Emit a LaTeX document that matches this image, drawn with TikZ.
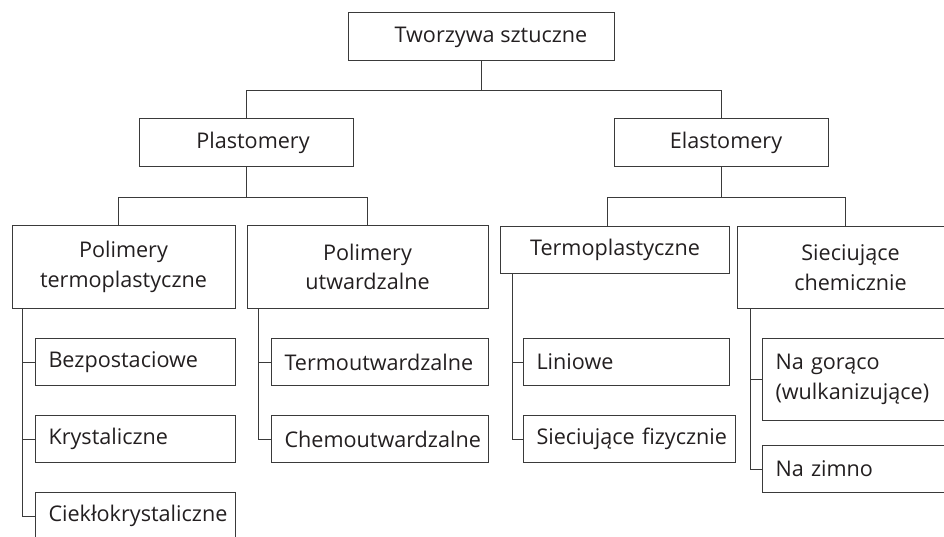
\documentclass[tikz,border=0pt]{standalone}
\usepackage{fontspec}
\setmainfont{Open Sans}
\usepackage{xcolor}
\usetikzlibrary{positioning,calc}
\definecolor{ink}{HTML}{231f20}
\definecolor{edge}{HTML}{3a3a3a}

\begin{document}
\begin{tikzpicture}[x=1pt,y=1pt,
    box/.style={draw=edge,line width=1pt,inner sep=0pt,text=ink,
      font=\fontsize{21.6}{29.5}\selectfont,align=center},
    leaf/.style={box,anchor=north west,inner xsep=13pt,align=left,
      minimum height=47pt},
    link/.style={edge,line width=1pt}]

  \useasboundingbox (0,0) rectangle (944,536);
  \clip (0,0) rectangle (944,536);

  % ---------------------------------------------------------------- ROOT
  \node[box,minimum width=266pt,minimum height=48pt] (root) at (481,499)
    {\hspace{20pt}Tworzywa sztuczne};

  % ---------------------------------------------------------------- MAIN GROUPS
  \node[box,minimum width=214pt,minimum height=48pt] (plast) at (246,393)
    {\hspace{14pt}Plastomery};
  \node[box,minimum width=214pt,minimum height=48pt] (elast) at (721,393)
    {\hspace{10pt}Elastomery};

  % ---------------------------------------------------------------- PLASTOMERY
  \node[box,minimum width=223pt,minimum height=82pt] (ptermo) at (123.5,269)
    {Polimery\\termoplastyczne};
  \node[box,minimum width=241pt,minimum height=82pt] (putw) at (367.5,269)
    {Polimery\\utwardzalne};

  \node[leaf,text width=174pt] (bezp)  at (35,198) {Bezpostaciowe};
  \node[leaf,text width=174pt] (kryst) at (35,121) {Krystaliczne};
  \node[leaf,text width=174pt] (ciek)  at (35,44)  {Ciek\l{}okrystaliczne};

  \node[leaf,text width=191pt] (tout) at (271,198) {Termoutwardzalne};
  \node[leaf,text width=191pt] (cout) at (271,121) {Chemoutwardzalne};

  % ---------------------------------------------------------------- ELASTOMERY
  \node[box,anchor=north west,minimum width=229pt,minimum height=47pt]
    (etermo) at (500,310) {Termoplastyczne};
  \node[box,anchor=north west,minimum width=226pt,minimum height=82pt]
    (esiec) at (737,310) {Sieciujące\\chemicznie};

  \node[leaf,text width=180pt] (lin) at (523,198) {Liniowe};
  \node[leaf,text width=186pt] (fiz) at (523,121)
    {\makebox[186pt][l]{Sieciujące fizycznie}};

  \node[leaf,text width=174pt,minimum height=82pt] (gor) at (762,198)
    {Na gorąco\\(wulkanizujące)};
  \node[leaf,text width=174pt] (zim) at (762,91) {Na zimno};

  % ---------------------------------------------------------------- CONNECTORS
  \draw[link] (root.south) -- ++(0,-29) -| (plast.north);
  \draw[link] (root.south) -- ++(0,-29) -| (elast.north);

  \draw[link] (plast.south) -- ++(0,-30) -| ([xshift=-5pt]ptermo.north);
  \draw[link] (plast.south) -- ++(0,-30) -| (putw.north);
  \draw[link] (elast.south) -- ++(0,-30) -| ([xshift=-8pt]etermo.north);
  \draw[link] (elast.south) -- ++(0,-30) -| ([xshift=-5pt]esiec.north);

  \foreach \n in {bezp,kryst,ciek}
    \draw[link] ([xshift=11pt]ptermo.south west) |- (\n.west);
  \foreach \n in {tout,cout}
    \draw[link] ([xshift=12pt]putw.south west) |- (\n.west);
  \foreach \n in {lin,fiz}
    \draw[link] ([xshift=12pt]etermo.south west) |- (\n.west);
  \foreach \n in {gor,zim}
    \draw[link] ([xshift=13pt]esiec.south west) |- (\n.west);

\end{tikzpicture}
\end{document}
